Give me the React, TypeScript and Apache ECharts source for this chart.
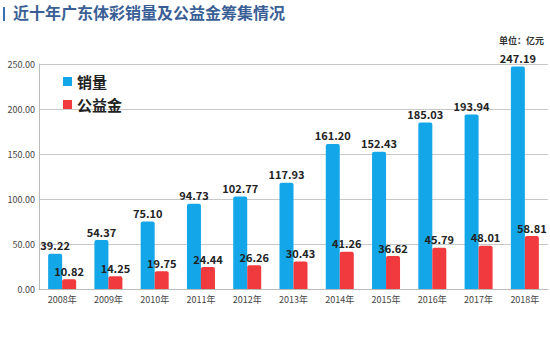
import React, { useEffect, useRef } from "react";
import * as echarts from "echarts";

const categories = ["2008年", "2009年", "2010年", "2011年", "2012年", "2013年", "2014年", "2015年", "2016年", "2017年", "2018年"];
const sales = [39.22, 54.37, 75.1, 94.73, 102.77, 117.93, 161.2, 152.43, 185.03, 193.94, 247.19];
const welfare = [10.82, 14.25, 19.75, 24.44, 26.26, 30.43, 41.26, 36.62, 45.79, 48.01, 58.81];
const seriesNames = ["销量", "公益金"];
const titleText = "近十年广东体彩销量及公益金筹集情况";
const unitText = "单位：亿元";

const FONT = "'Noto Sans CJK SC', 'Noto Sans', sans-serif";

export default function App() {
  const ref = useRef<HTMLDivElement>(null);
  useEffect(() => {
    if (!ref.current) return;
    const chart = echarts.init(ref.current, null, { renderer: "svg" });
    const labelStyle = {
      show: true,
      position: "top" as const,
      distance: 3,
      fontSize: 11,
      fontWeight: "bold" as const,
      color: "#222",
      fontFamily: FONT,
      formatter: (p: any) => Number(p.value).toFixed(2),
    };
    chart.setOption({
      animation: false,
      backgroundColor: "#fff",
      textStyle: { fontFamily: FONT },
      graphic: [
        { type: "rect", left: 3, top: 7, shape: { width: 2, height: 14 }, style: { fill: "#3d6fb6" } },
        {
          type: "text",
          left: 13,
          top: 4,
          style: { text: titleText, font: `bold 16px ${FONT}`, fill: "#3a5f96" },
        },
        {
          type: "text",
          right: 6,
          top: 36,
          style: { text: unitText, font: `bold 9px ${FONT}`, fill: "#333" },
        },
      ],
      legend: {
        left: 58,
        top: 69,
        orient: "vertical",
        itemWidth: 9,
        itemHeight: 9,
        itemGap: 8,
        icon: "rect",
        textStyle: { fontSize: 15, fontWeight: "bold", color: "#222", fontFamily: FONT },
        data: seriesNames,
      },
      grid: { left: 39, right: 2, top: 64, bottom: 64, containLabel: false },
      xAxis: {
        type: "category",
        data: categories,
        axisLine: { lineStyle: { color: "#bbb" } },
        axisTick: { show: false },
        axisLabel: { fontSize: 9, color: "#444", margin: 6, fontFamily: FONT },
      },
      yAxis: {
        type: "value",
        min: 0,
        max: 250,
        interval: 50,
        axisLine: { show: true, lineStyle: { color: "#bbb" } },
        axisTick: { show: false },
        splitLine: { lineStyle: { color: "#c8c8c8" } },
        axisLabel: {
          fontSize: 9,
          color: "#444",
          margin: 4,
          fontFamily: FONT,
          formatter: (v: number) => v.toFixed(2),
        },
      },
      series: [
        {
          name: seriesNames[0],
          type: "bar",
          data: sales,
          barWidth: 14,
          barGap: "0%",
          itemStyle: { color: "#13a7ea", borderRadius: [2, 2, 0, 0] },
          label: labelStyle,
        },
        {
          name: seriesNames[1],
          type: "bar",
          data: welfare,
          barWidth: 14,
          itemStyle: { color: "#f03a3e", borderRadius: [2, 2, 0, 0] },
          label: labelStyle,
        },
      ],
    });
    return () => chart.dispose();
  }, []);
  return <div ref={ref} style={{ width: 550, height: 353, position: "absolute", left: 0, top: 0 }} />;
}
